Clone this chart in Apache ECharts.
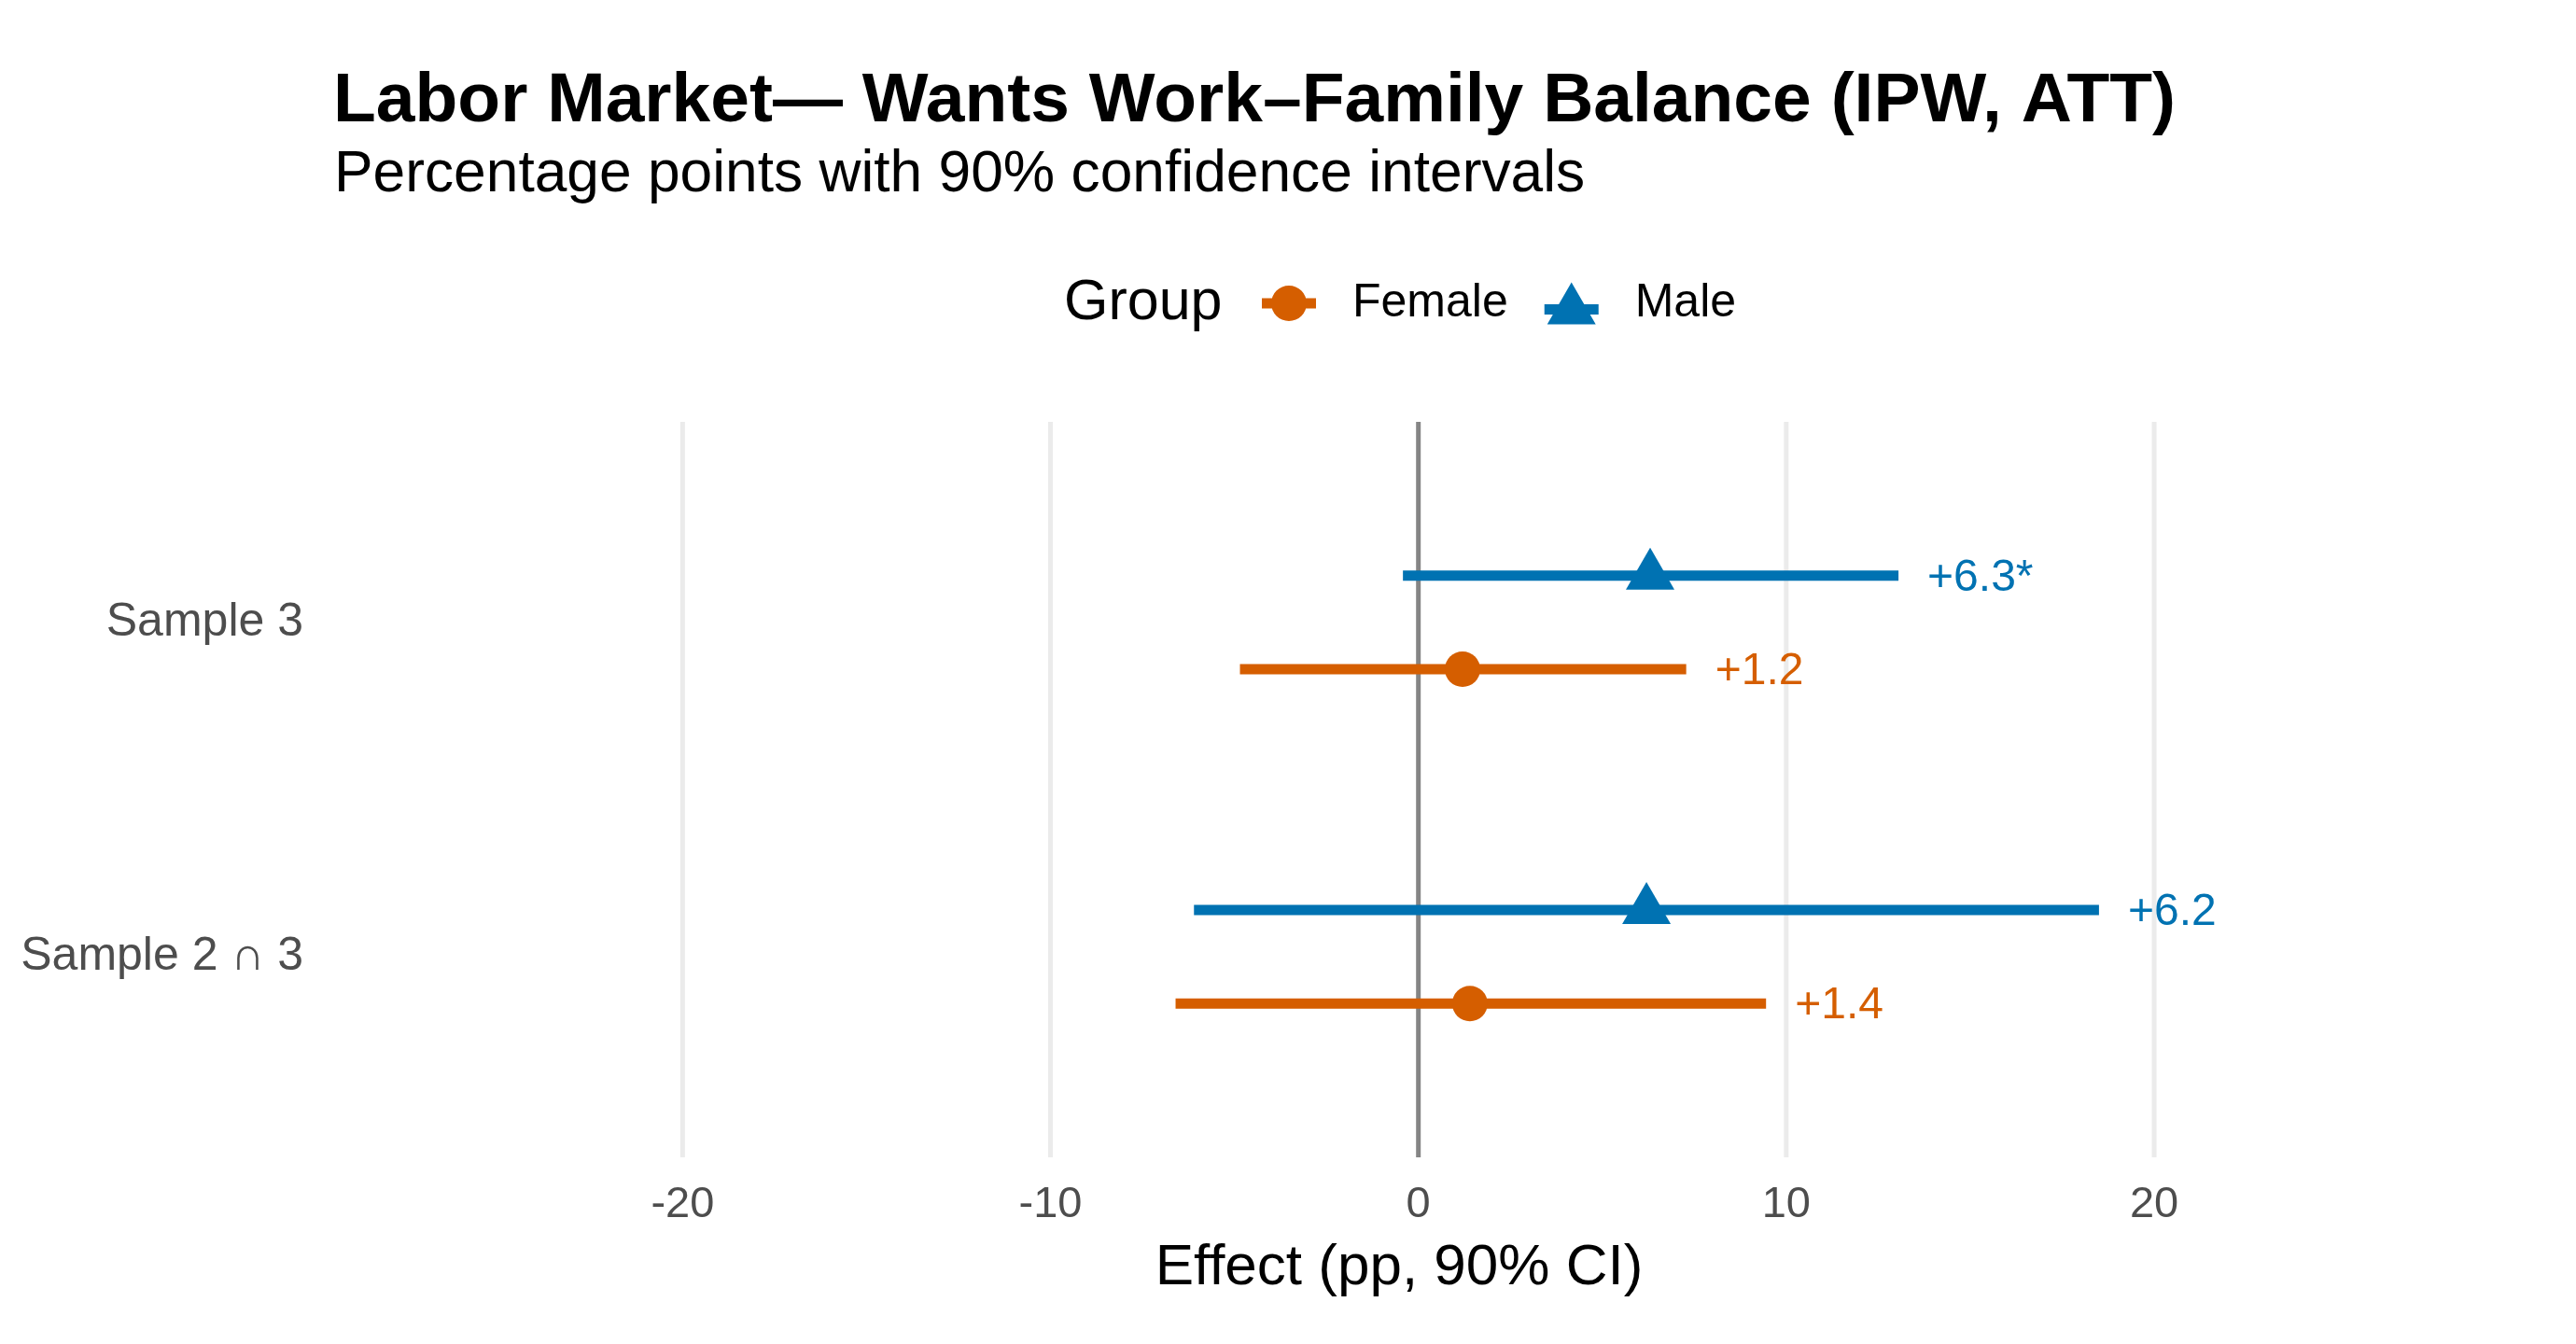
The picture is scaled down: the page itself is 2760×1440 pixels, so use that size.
<!DOCTYPE html>
<html>
<head>
<meta charset="utf-8">
<title>Labor Market — Wants Work–Family Balance</title>
<script src="https://cdn.jsdelivr.net/npm/echarts@6/dist/echarts.min.js"></script>
<style>
  html, body { margin: 0; padding: 0; background: #fff; }
  #chart { width: 2760px; height: 1440px; }
</style>
</head>
<body>
<div id="chart"></div>
<script>
// ============ Data ============
const categories = ['Sample 2 ∩ 3', 'Sample 3'];
const catPos = [1, 2];
const groups = ['Female', 'Male'];

const femaleEst = [1.4, 1.2];
const femaleLo = [-6.6, -4.85];
const femaleHi = [9.45, 7.28];
const femaleLabels = ['+1.4', '+1.2'];

const maleEst = [6.2, 6.3];
const maleLo = [-6.1, -0.42];
const maleHi = [18.5, 13.05];
const maleLabels = ['+6.2', '+6.3*'];

const xTicks = [-20, -10, 0, 10, 20];

// ============ Layout / style ============
const FONT = '"Liberation Sans", Arial, Helvetica, sans-serif';
const ORANGE = '#D55E00';
const BLUE = '#0072B2';
const dodge = 0.14;
const yMin = 0.4;
const yMax = 2.6;

const femaleIcon = 'path://M0,13.5 H58 V24.5 H0 Z M10,19 A19,19 0 1,1 48,19 A19,19 0 1,1 10,19 Z';
const maleIcon = 'path://M29,0 L55,45 L3,45 Z M0,23.5 H58 V34.5 H0 Z';

function rangeRenderer(color, labels) {
  return function (params, api) {
    const a = api.coord([api.value(0), api.value(2)]);
    const b = api.coord([api.value(1), api.value(2)]);
    return {
      type: 'group',
      children: [
        {
          type: 'line',
          shape: { x1: a[0], y1: a[1], x2: b[0], y2: b[1] },
          style: { stroke: color, lineWidth: 11 }
        },
        {
          type: 'text',
          x: b[0] + 31,
          y: b[1] + 3,
          style: {
            text: labels[params.dataIndex],
            fill: color,
            fontSize: 48,
            fontFamily: FONT,
            align: 'left',
            verticalAlign: 'middle'
          }
        }
      ]
    };
  };
}

const chart = echarts.init(document.getElementById('chart'));

chart.setOption({
  backgroundColor: '#fff',
  animation: false,
  textStyle: { fontFamily: FONT },
  title: [
    {
      text: 'Labor Market\u2014 Wants Work\u2013Family Balance (IPW, ATT)',
      left: 357,
      top: 72,
      padding: 0,
      textStyle: { fontSize: 75, fontWeight: 'bold', color: '#000', fontFamily: FONT }
    },
    {
      text: 'Percentage points with 90% confidence intervals',
      left: 358,
      top: 157,
      padding: 0,
      textStyle: { fontSize: 62.3, fontWeight: 'normal', color: '#000', fontFamily: FONT }
    },
    {
      text: 'Group',
      left: 1140,
      top: 295,
      padding: 0,
      textStyle: { fontSize: 61, fontWeight: 'normal', color: '#000', fontFamily: FONT }
    }
  ],
  legend: {
    data: [
      { name: 'Female', icon: femaleIcon },
      { name: 'Male', icon: maleIcon }
    ],
    left: 1352,
    top: 300,
    padding: 0,
    itemWidth: 58,
    itemHeight: 45,
    itemGap: 39,
    selectedMode: false,
    textStyle: { fontSize: 50, color: '#000', fontFamily: FONT, padding: [0, 0, 0, 34] }
  },
  grid: { left: 349, right: 111, top: 452, bottom: 200 },
  xAxis: {
    type: 'value',
    min: -29.7,
    max: 28.65,
    name: 'Effect (pp, 90% CI)',
    nameLocation: 'middle',
    nameGap: 88,
    nameTextStyle: { fontSize: 62, color: '#000', fontFamily: FONT },
    axisLine: { show: false },
    axisTick: { show: false },
    splitLine: { show: false },
    axisLabel: {
      customValues: xTicks,
      fontSize: 47,
      color: '#4D4D4D',
      margin: 28,
      fontFamily: FONT
    }
  },
  yAxis: {
    type: 'value',
    min: yMin,
    max: yMax,
    axisLine: { show: false },
    axisTick: { show: false },
    splitLine: { show: false },
    axisLabel: {
      customValues: catPos,
      formatter: function (v) {
        const i = catPos.indexOf(Math.round(v));
        return i >= 0 ? categories[i] : '';
      },
      fontSize: 50,
      color: '#4D4D4D',
      margin: 24,
      fontFamily: FONT
    }
  },
  series: [
    {
      name: 'grid',
      type: 'custom',
      z: 1,
      silent: true,
      data: xTicks.map(v => [v]),
      encode: { x: 0 },
      renderItem: function (params, api) {
        const v = api.value(0);
        const top = api.coord([v, yMax]);
        const bottom = api.coord([v, yMin]);
        return {
          type: 'line',
          shape: { x1: top[0], y1: top[1], x2: bottom[0], y2: bottom[1] },
          style: { stroke: v === 0 ? '#858585' : '#EBEBEB', lineWidth: 5 }
        };
      }
    },
    {
      name: 'Female CI',
      type: 'custom',
      z: 2,
      silent: true,
      data: catPos.map((p, i) => [femaleLo[i], femaleHi[i], p - dodge]),
      encode: { x: [0, 1], y: 2 },
      renderItem: rangeRenderer(ORANGE, femaleLabels)
    },
    {
      name: 'Male CI',
      type: 'custom',
      z: 2,
      silent: true,
      data: catPos.map((p, i) => [maleLo[i], maleHi[i], p + dodge]),
      encode: { x: [0, 1], y: 2 },
      renderItem: rangeRenderer(BLUE, maleLabels)
    },
    {
      name: groups[0],
      type: 'scatter',
      z: 3,
      symbol: 'circle',
      symbolSize: 38,
      itemStyle: { color: ORANGE, opacity: 1 },
      data: catPos.map((p, i) => [femaleEst[i], p - dodge])
    },
    {
      name: groups[1],
      type: 'scatter',
      z: 3,
      symbol: 'triangle',
      symbolSize: [52, 45],
      symbolOffset: [0, -7.5],
      itemStyle: { color: BLUE, opacity: 1 },
      data: catPos.map((p, i) => [maleEst[i], p + dodge])
    }
  ]
});
</script>
</body>
</html>
